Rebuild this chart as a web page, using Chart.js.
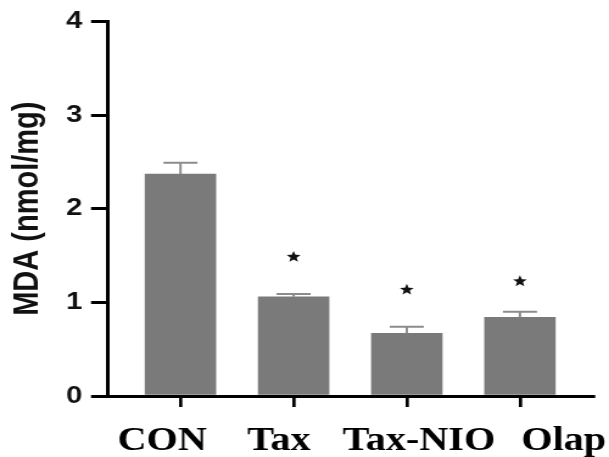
<!DOCTYPE html>
<html><head><meta charset="utf-8">
<script src="https://cdn.jsdelivr.net/npm/chart.js@4/dist/chart.umd.min.js"></script>
<style>
html,body{margin:0;padding:0;background:#fff;overflow:hidden}
</style></head>
<body><canvas id="c" width="500" height="457" style="display:block;width:609px;height:457px"></canvas>
<script>
// ---- data ----
const categories = ['CON', 'Tax', 'Tax-NIO', 'Olap'];
const mdaValues = [2.37, 1.06, 0.67, 0.84];
const mdaErrors = [0.12, 0.03, 0.07, 0.06];
const starLevels = [null, 1.49, 1.14, 1.23];
const yTicks = [0, 1, 2, 3, 4];
const yTitle = 'MDA (nmol/mg)';
const positions = categories.map((_, i) => i);

// ---- style ----
const barColor = '#7a7a7a';
const errColor = '#8c8c8c';
const labelShift = [-15, -12, 10, 36];
const labelFont = 'bold 33px "Liberation Serif", "Times New Roman", serif';

const overlay = {
  id: 'overlay',
  afterDatasetsDraw(chart) {
    const { ctx, scales: { x, y } } = chart;
    ctx.save();
    // error bars
    ctx.strokeStyle = errColor;
    ctx.lineWidth = 2;
    mdaValues.forEach((v, i) => {
      const cx = x.getPixelForValue(positions[i]);
      const y0 = y.getPixelForValue(v);
      const y1 = y.getPixelForValue(v + mdaErrors[i]);
      ctx.beginPath();
      ctx.moveTo(cx, y0); ctx.lineTo(cx, y1);
      ctx.moveTo(cx - 14, y1); ctx.lineTo(cx + 14, y1);
      ctx.stroke();
    });
    // stars
    ctx.fillStyle = '#111';
    starLevels.forEach((s, i) => {
      if (s === null) return;
      const cx = x.getPixelForValue(positions[i]);
      const cy = y.getPixelForValue(s);
      const R = 6, r = 2.6;
      ctx.beginPath();
      for (let k = 0; k < 10; k++) {
        const a = -Math.PI / 2 + k * Math.PI / 5;
        const rad = k % 2 === 0 ? R : r;
        const px = cx + rad * Math.cos(a), py = cy + 0.5 + rad * Math.sin(a);
        k === 0 ? ctx.moveTo(px, py) : ctx.lineTo(px, py);
      }
      ctx.closePath();
      ctx.fill();
    });
    // category labels
    ctx.fillStyle = '#000';
    ctx.font = labelFont;
    ctx.textAlign = 'center';
    ctx.textBaseline = 'alphabetic';
    categories.forEach((c, i) => {
      ctx.fillText(c, x.getPixelForValue(positions[i]) + labelShift[i], 450);
    });
    ctx.restore();
  }
};

new Chart(document.getElementById('c'), {
  type: 'bar',
  data: {
    datasets: [{
      data: positions.map((p, i) => ({ x: p, y: mdaValues[i] })),
      backgroundColor: barColor,
      borderWidth: 0,
      barThickness: 58
    }]
  },
  options: {
    responsive: false,
    animation: false,
    layout: { padding: { left: 0, top: 20.7, right: 13.1, bottom: 0 } },
    plugins: { legend: { display: false }, tooltip: { enabled: false } },
    scales: {
      x: {
        type: 'linear',
        offset: false,
        min: -0.64,
        max: 3.646,
        afterBuildTicks: s => { s.ticks = positions.map(v => ({ value: v })); },
        afterFit: s => { s.height = 61; },
        ticks: { display: false },
        grid: { offset: false, drawOnChartArea: false, drawTicks: true, tickLength: 11, color: '#000', lineWidth: 2.7 },
        border: { display: true, color: '#000', width: 3 }
      },
      y: {
        min: 0,
        max: 4,
        afterBuildTicks: s => { s.ticks = yTicks.map(v => ({ value: v })); },
        afterFit: s => { s.width = 88.7; },
        ticks: {
          color: '#111',
          padding: 7,
          font: { family: '"Liberation Sans", Arial, sans-serif', size: 24, weight: 'bold' }
        },
        grid: { drawOnChartArea: false, drawTicks: true, tickLength: 14, color: '#000', lineWidth: 3 },
        border: { display: true, color: '#000', width: 3 },
        title: {
          display: true,
          text: yTitle,
          color: '#111',
          padding: { top: 6, bottom: 0 },
          font: { family: '"Liberation Sans", Arial, sans-serif', size: 29, weight: 'bold' }
        }
      }
    }
  },
  plugins: [overlay]
});
</script>
</body></html>
